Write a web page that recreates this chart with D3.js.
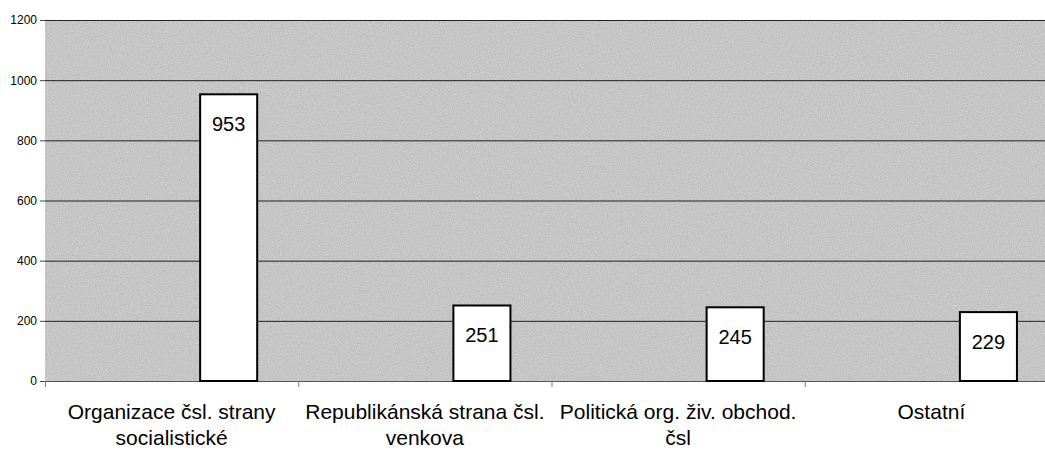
<!DOCTYPE html>
<html><head><meta charset="utf-8">
<script src="https://cdn.jsdelivr.net/npm/d3@7"></script>
<style>body{margin:0;background:#fff}svg{display:block}</style>
</head><body>
<svg id="chart" width="1045" height="450"></svg>
<script>
const categories = ["Organizace čsl. strany socialistické","Republikánská strana čsl. venkova","Politická org. živ. obchod. čsl","Ostatní"];
const categoryLines = [["Organizace čsl. strany","socialistické"],["Republikánská strana čsl.","venkova"],["Politická org. živ. obchod.","čsl"],["Ostatní"]];
const values = [953, 251, 245, 229];
const yTicks = [0, 200, 400, 600, 800, 1000, 1200];

const svg = d3.select("#chart");
const m = {left:45, right:-13, top:20, bottom:69};
const W = 1045, H = 450;
const iw = W - m.left - m.right, ih = H - m.top - m.bottom;

const defs = svg.append("defs");
const f = defs.append("filter").attr("id","grain").attr("x",0).attr("y",0).attr("width","100%").attr("height","100%");
f.append("feTurbulence").attr("type","fractalNoise").attr("baseFrequency","0.9").attr("numOctaves",2).attr("seed",3).attr("result","n");
f.append("feColorMatrix").attr("in","n").attr("type","matrix")
 .attr("values","0 0 0 0 0  0 0 0 0 0  0 0 0 0 0  0 0 0 0.4 0").attr("result","a");
f.append("feComposite").attr("in","a").attr("in2","SourceGraphic").attr("operator","in").attr("result","b");
f.append("feMerge").selectAll("feMergeNode").data(["SourceGraphic","b"]).join("feMergeNode").attr("in",d=>d);

const g = svg.append("g").attr("transform",`translate(${m.left},${m.top})`);

const x = d3.scaleBand().domain(categories).range([0, iw]).padding(0);
const sub = d3.scaleBand().domain([0,1,2]).range([0, x.bandwidth()]).paddingInner(0).paddingOuter(0.72);
const y = d3.scaleLinear().domain([0,1200]).range([ih, 0]);

g.append("rect").attr("x",0).attr("y",0).attr("width",W-m.left).attr("height",ih)
 .attr("fill","#dadada").attr("filter","url(#grain)");

g.append("g").selectAll("line").data(yTicks.filter(d=>d>0)).join("line")
 .attr("x1",0).attr("x2",W-m.left).attr("y1",d=>y(d)+0.5).attr("y2",d=>y(d)+0.5)
 .attr("stroke","#222").attr("stroke-width",1);

const ya = g.append("g").call(d3.axisLeft(y).tickValues(yTicks).tickFormat(d3.format("d")).tickSize(5).tickPadding(3));
ya.select(".domain").remove();
ya.selectAll("text").attr("font-family","Liberation Sans, Arial, sans-serif").attr("font-size",12).attr("fill","#000");
ya.selectAll("line").attr("stroke","#444");

// bottom axis
const xa = g.append("g").attr("transform",`translate(0,${ih})`);
xa.append("line").attr("x1",0).attr("x2",W-m.left).attr("y1",0.5).attr("y2",0.5).attr("stroke","#555");
xa.selectAll(".tk").data(categories).join("line").attr("class","tk")
 .attr("x1",d=>x(d)+0.5).attr("x2",d=>x(d)+0.5).attr("y1",0).attr("y2",6).attr("stroke","#777");

// bars
const bw = sub.bandwidth();
g.selectAll(".bar").data(values).join("rect").attr("class","bar")
 .attr("x",(d,i)=>x(categories[i])+sub(2))
 .attr("y",d=>y(d))
 .attr("width",bw).attr("height",d=>ih-y(d))
 .attr("fill","#fff").attr("stroke","#000").attr("stroke-width",2);

g.selectAll(".val").data(values).join("text").attr("class","val")
 .attr("x",(d,i)=>x(categories[i])+sub(2)+bw/2)
 .attr("y",d=>y(d)+37)
 .attr("text-anchor","middle")
 .attr("font-family","Liberation Sans, Arial, sans-serif").attr("font-size",20).attr("fill","#000")
 .text(d=>d);

// category labels
const cl = g.selectAll(".cat").data(categories).join("text").attr("class","cat")
 .attr("text-anchor","middle")
 .attr("font-family","Liberation Sans, Arial, sans-serif").attr("font-size",21).attr("fill","#000")
 .attr("transform",d=>`translate(${x(d)+x.bandwidth()/2},${ih+38})`);
cl.each(function(d,i){
  d3.select(this).selectAll("tspan").data(categoryLines[i]).join("tspan")
   .attr("x",0).attr("dy",(t,j)=>j===0?0:26).text(t=>t);
});
</script>
</body></html>
